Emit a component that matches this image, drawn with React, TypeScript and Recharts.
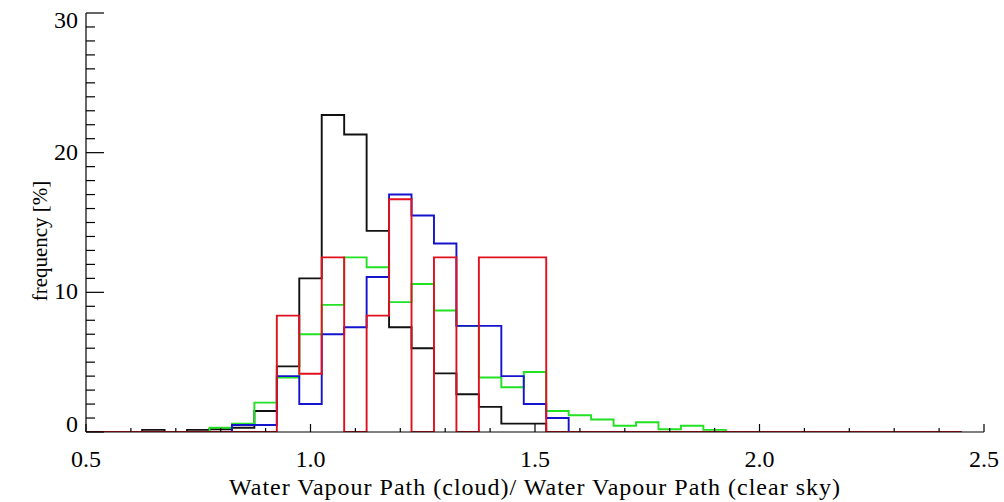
import React from 'react';
import { LineChart, Line, XAxis, YAxis } from 'recharts';

// Bin centres of the histograms (width 0.05)
const binCenters = [
  0.5, 0.55, 0.6, 0.65, 0.7, 0.75, 0.8, 0.85, 0.9, 0.95,
  1.0, 1.05, 1.1, 1.15, 1.2, 1.25, 1.3, 1.35, 1.4, 1.45,
  1.5, 1.55, 1.6, 1.65, 1.7, 1.75, 1.8, 1.85, 1.9, 1.95,
  2.0, 2.05, 2.1, 2.15, 2.2, 2.25, 2.3, 2.35, 2.4, 2.45,
];

// Frequency [%] per bin for each sample
const blackFreq = [
  0, 0, 0, 0.15, 0, 0.15, 0.2, 0.3, 1.5, 4.7,
  11.0, 22.7, 21.3, 14.4, 7.5, 6.0, 4.2, 2.7, 1.8, 0.6,
  0.6, 0, 0, 0, 0, 0, 0, 0, 0, 0,
  0, 0, 0, 0, 0, 0, 0, 0, 0, 0,
];
const greenFreq = [
  0, 0, 0, 0, 0, 0, 0.3, 0.6, 2.1, 3.9,
  7.0, 9.1, 12.5, 11.8, 9.3, 10.6, 8.7, 7.6, 3.9, 3.2,
  4.3, 1.5, 1.2, 0.9, 0.45, 0.7, 0.2, 0.45, 0.15, 0,
  0, 0, 0, 0, 0, 0, 0, 0, 0, 0,
];
const blueFreq = [
  0, 0, 0, 0, 0, 0, 0, 0.5, 0.5, 4.0,
  2.0, 7.0, 7.5, 11.1, 17.0, 15.5, 13.5, 7.6, 7.6, 4.0,
  2.0, 1.0, 0, 0, 0, 0, 0, 0, 0, 0,
  0, 0, 0, 0, 0, 0, 0, 0, 0, 0,
];
const redFreq = [
  0, 0, 0, 0, 0, 0, 0, 0, 0, 8.33,
  4.17, 12.5, 0, 8.33, 16.67, 0, 12.5, 0, 12.5, 12.5,
  12.5, 0, 0, 0, 0, 0, 0, 0, 0, 0,
  0, 0, 0, 0, 0, 0, 0, 0, 0, 0,
];

// Axis ticks
const xTicks = [
  0.5, 0.6, 0.7, 0.8, 0.9, 1.0, 1.1, 1.2, 1.3, 1.4, 1.5,
  1.6, 1.7, 1.8, 1.9, 2.0, 2.1, 2.2, 2.3, 2.4, 2.5,
];
const xLabels = ['0.5', '1.0', '1.5', '2.0', '2.5'];
const yTicks = Array.from({ length: 31 }, (_, i) => i);
const yLabels = ['0', '10', '20', '30'];

const data = binCenters.map((x, i) => ({
  x,
  black: blackFreq[i],
  green: greenFreq[i],
  blue: blueFreq[i],
  red: redFreq[i],
}));

const FONT = '"Liberation Serif", "Times New Roman", serif';

const isMajorX = (v: number) => xLabels.includes(v.toFixed(1));
const isMajorY = (v: number) => yLabels.includes(String(v));

const BottomTick = (props: any) => {
  const { x, y, payload } = props;
  const major = isMajorX(payload.value);
  return (
    <g>
      <line x1={x} x2={x} y1={y} y2={y - (major ? 8 : 4)} stroke="#000" strokeWidth={1.2} />
      {major && (
        <text x={x} y={y + 35} textAnchor="middle" fontFamily={FONT} fontSize={24} fill="#000">
          {payload.value.toFixed(1)}
        </text>
      )}
    </g>
  );
};

const TopTick = (props: any) => {
  const { x, y, payload } = props;
  const major = isMajorX(payload.value);
  return <line x1={x} x2={x} y1={y} y2={y + (major ? 8 : 4)} stroke="#000" strokeWidth={1.2} />;
};

// The end labels are kept inside the axis range: the top one sits below its
// tick and the bottom one sits on the axis line.
const yLabelShift = (v: number) => {
  if (v === yTicks[yTicks.length - 1]) return 15;
  if (v === yTicks[0]) return 0;
  return 7;
};

const LeftTick = (props: any) => {
  const { x, y, payload } = props;
  const major = isMajorY(payload.value);
  return (
    <g>
      <line x1={x} x2={x + (major ? 18 : 9)} y1={y} y2={y} stroke="#000" strokeWidth={1.2} />
      {major && (
        <text
          x={x - 8}
          y={y + yLabelShift(payload.value)}
          textAnchor="end"
          fontFamily={FONT}
          fontSize={24}
          fill="#000"
        >
          {String(payload.value)}
        </text>
      )}
    </g>
  );
};

const RightTick = (props: any) => {
  const { x, y, payload } = props;
  const major = isMajorY(payload.value);
  return <line x1={x} x2={x - (major ? 18 : 9)} y1={y} y2={y} stroke="#000" strokeWidth={1.2} />;
};

const YTitle = () => {
  const cx = 40;
  const cy = 241;
  return (
    <text
      x={cx}
      y={cy}
      transform={`rotate(-90, ${cx}, ${cy})`}
      textAnchor="middle"
      dominantBaseline="central"
      fontFamily={FONT}
      fontSize={21}
      fill="#000"
    >
      frequency [%]
    </text>
  );
};

const series = [
  { key: 'black', color: '#111111' },
  { key: 'green', color: '#22e022' },
  { key: 'blue', color: '#1414cc' },
  { key: 'red', color: '#e0101e' },
];

export default function App() {
  return (
    <div style={{ position: 'absolute', left: 0, top: 0, width: 1004, height: 502, background: '#fff' }}>
      <LineChart
        width={1004}
        height={502}
        data={data}
        margin={{ top: 13, right: 20, bottom: 0, left: 0 }}
        style={{ fontFamily: FONT }}
      >
        <XAxis
          xAxisId="bottom"
          type="number"
          dataKey="x"
          domain={[0.5, 2.5]}
          allowDataOverflow
          ticks={xTicks}
          interval={0}
          tickLine={false}
          tickSize={0}
          tickMargin={0}
          tick={<BottomTick />}
          axisLine={{ stroke: '#000', strokeWidth: 1.2 }}
          height={70}
          label={{
            value: 'Water Vapour Path (cloud)/ Water Vapour Path (clear sky)',
            position: 'insideBottom',
            offset: 7,
            fill: '#000',
            fontSize: 24,
            fontFamily: FONT,
            letterSpacing: 1,
          }}
        />
        <XAxis
          xAxisId="top"
          orientation="top"
          type="number"
          domain={[0.5, 2.5]}
          allowDataOverflow
          ticks={xTicks}
          interval={0}
          tickLine={false}
          tickSize={0}
          tickMargin={0}
          tick={<TopTick />}
          axisLine={{ stroke: '#000', strokeWidth: 1.2 }}
          height={0}
        />
        <YAxis
          yAxisId="left"
          type="number"
          domain={[0, 30]}
          allowDataOverflow
          ticks={yTicks}
          interval={0}
          tickLine={false}
          tickSize={0}
          tickMargin={0}
          tick={<LeftTick />}
          axisLine={{ stroke: '#000', strokeWidth: 1.2 }}
          width={86}
          label={{ content: <YTitle /> }}
        />
        <YAxis
          yAxisId="right"
          orientation="right"
          type="number"
          domain={[0, 30]}
          allowDataOverflow
          ticks={yTicks}
          interval={0}
          tickLine={false}
          tickSize={0}
          tickMargin={0}
          tick={<RightTick />}
          axisLine={{ stroke: '#000', strokeWidth: 1.2 }}
          width={0}
        />
        {series.map((s) => (
          <Line
            key={s.key}
            xAxisId="bottom"
            yAxisId="left"
            type="step"
            dataKey={s.key}
            stroke={s.color}
            strokeWidth={1.9}
            dot={false}
            activeDot={false}
            isAnimationActive={false}
          />
        ))}
      </LineChart>
    </div>
  );
}
